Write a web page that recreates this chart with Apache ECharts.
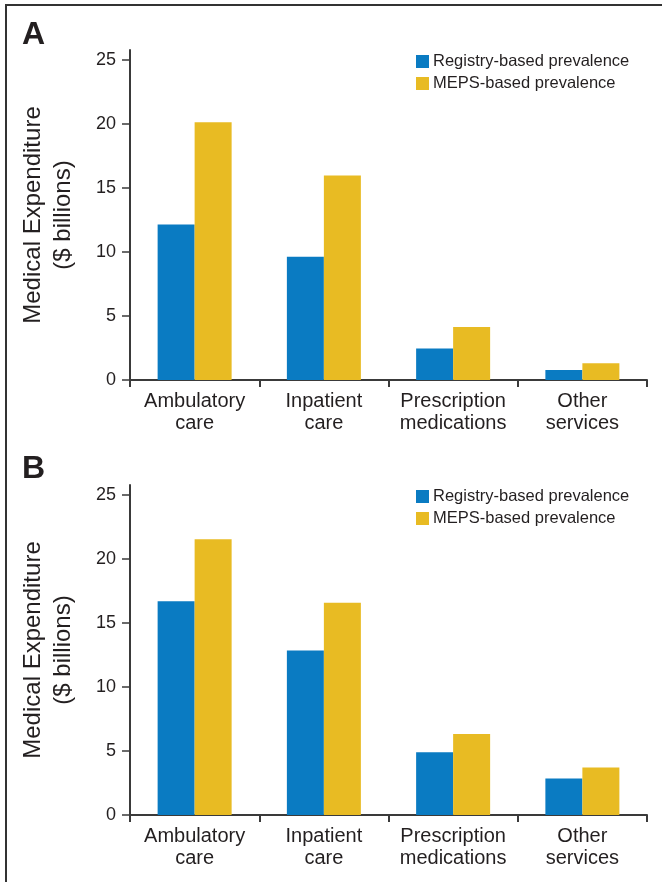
<!DOCTYPE html>
<html>
<head>
<meta charset="utf-8">
<script src="https://cdn.jsdelivr.net/npm/echarts@6/dist/echarts.min.js"></script>
<style>
html,body{margin:0;padding:0;background:#fff;}
#chart{position:absolute;left:0;top:0;width:662px;height:882px;}
#frame{position:absolute;left:5px;top:4px;width:660px;height:880px;border-left:2px solid #333;border-top:2px solid #333;pointer-events:none;}
</style>
</head>
<body>
<div id="chart"></div>
<div id="frame"></div>
<script>
const categories = ['Ambulatory\ncare', 'Inpatient\ncare', 'Prescription\nmedications', 'Other\nservices'];
const seriesNames = ['Registry-based prevalence', 'MEPS-based prevalence'];
const panelLabels = ['A', 'B'];
const yTicks = [0, 5, 10, 15, 20, 25];
const yAxisTitle = 'Medical Expenditure\n($ billions)';
const registryA = [12.16, 9.63, 2.47, 0.78];
const mepsA = [20.16, 15.99, 4.14, 1.30];
const registryB = [16.72, 12.86, 4.90, 2.86];
const mepsB = [21.56, 16.59, 6.33, 3.72];

const FONT = '"Liberation Sans", Arial, Helvetica, sans-serif';
const TXT = '#231f20';
const AX = '#3a3a3a';
const BLUE = '#0a7bc2';
const YEL = '#e8bb23';

const grids = [
  {left: 130, right: 15, top: 50, bottom: 502},
  {left: 130, right: 15, top: 485, bottom: 67}
];

function xAxis(i) {
  return {
    type: 'category', gridIndex: i, data: categories,
    axisLine: {lineStyle: {color: AX, width: 2}},
    axisTick: {show: true, alignWithLabel: false, length: 7, lineStyle: {color: AX, width: 2}},
    axisLabel: {color: TXT, fontFamily: FONT, fontSize: 20, lineHeight: 22, margin: 10, interval: 0}
  };
}
function yAxis(i) {
  return {
    type: 'value', gridIndex: i, min: 0, max: 25.8,
    splitLine: {show: false},
    axisLine: {show: true, lineStyle: {color: AX, width: 2}},
    axisTick: {show: true, length: 8, customValues: yTicks, lineStyle: {color: AX, width: 1.5}},
    axisLabel: {color: TXT, fontFamily: FONT, fontSize: 18, margin: 14, customValues: yTicks},
    name: yAxisTitle, nameLocation: 'middle', nameGap: 52, nameRotate: 90,
    nameTextStyle: {color: TXT, fontFamily: FONT, fontSize: 24, lineHeight: 30}
  };
}
function bar(name, data, i, color) {
  return {
    type: 'bar', name: name, data: data, xAxisIndex: i, yAxisIndex: i,
    barWidth: 37, barGap: '0%', itemStyle: {color: color}, silent: true
  };
}
function legend(top) {
  return {orient: 'vertical', left: 416, top: top, padding: 0, itemWidth: 13, itemHeight: 13, itemGap: 3,
    data: seriesNames, icon: 'rect', selectedMode: false,
    textStyle: {fontFamily: FONT, fontSize: 16.5, lineHeight: 19, color: TXT, padding: [0, 0, 0, -1]}};
}

const option = {
  animation: false,
  backgroundColor: '#fff',
  title: [
    {text: panelLabels[0], left: 22, top: 19, padding: 0, textStyle: {fontFamily: FONT, fontSize: 32, fontWeight: 'bold', color: TXT}},
    {text: panelLabels[1], left: 22, top: 453, padding: 0, textStyle: {fontFamily: FONT, fontSize: 32, fontWeight: 'bold', color: TXT}}
  ],
  legend: [legend(52), legend(487)],
  grid: grids,
  xAxis: [xAxis(0), xAxis(1)],
  yAxis: [yAxis(0), yAxis(1)],
  series: [
    bar(seriesNames[0], registryA, 0, BLUE),
    bar(seriesNames[1], mepsA, 0, YEL),
    bar(seriesNames[0], registryB, 1, BLUE),
    bar(seriesNames[1], mepsB, 1, YEL)
  ]
};
const chart = echarts.init(document.getElementById('chart'), null, {renderer: 'canvas'});
chart.setOption(option);
</script>
</body>
</html>
